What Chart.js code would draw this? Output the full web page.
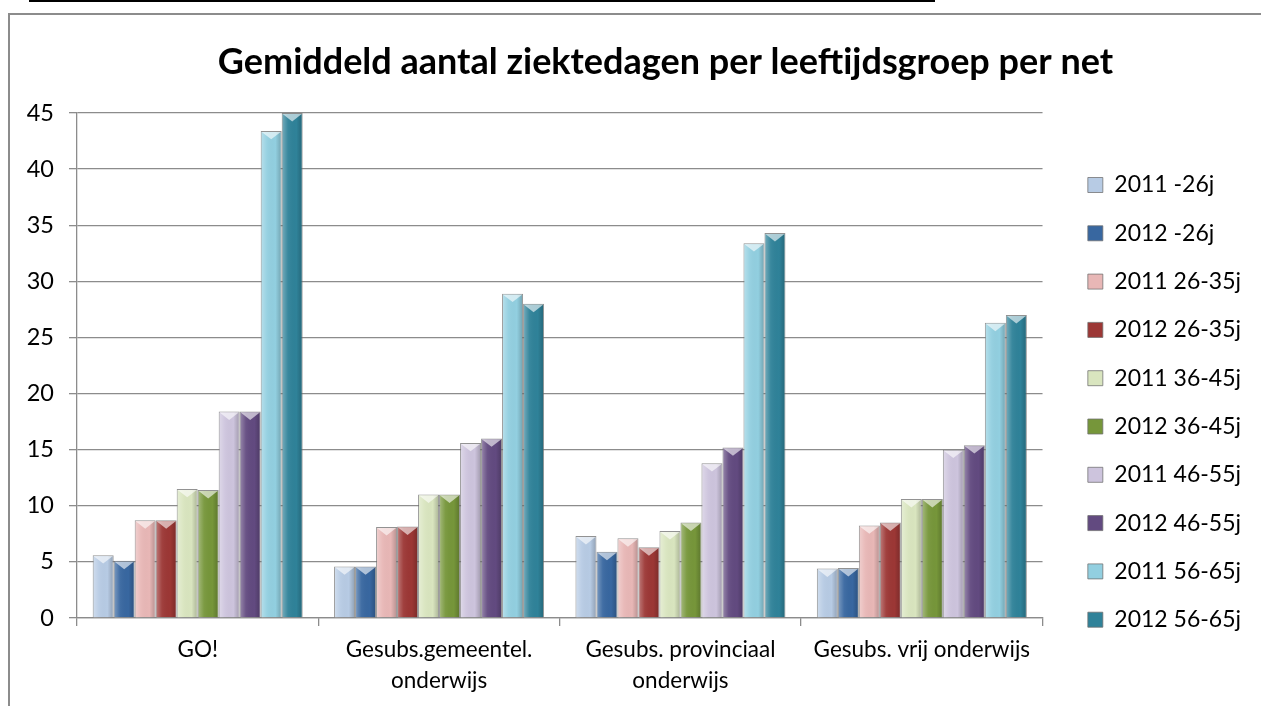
<!DOCTYPE html>
<html>
<head>
<meta charset="utf-8">
<script src="https://cdn.jsdelivr.net/npm/chart.js@4.4.0/dist/chart.umd.min.js"></script>
<style>
  body { margin: 0; background: #fff; overflow: hidden; }
  #topline { position: absolute; left: 29px; top: 0; width: 906px; height: 2px; background: #000; }
  #frame { position: absolute; left: 8px; top: 13px; width: 1300px; height: 760px;
           border-left: 2px solid #8c8c8c; border-top: 2px solid #8c8c8c; }
  #wrap { position: absolute; left: 0; top: 0; width: 1261px; height: 706px; }
</style>
</head>
<body>
<div id="topline"></div>
<div id="frame"></div>
<div id="wrap"><canvas id="chart"></canvas></div>
<script>
// categories (x axis)
const nets = ["GO!", ["Gesubs.gemeentel.", "onderwijs"], ["Gesubs. provinciaal", "onderwijs"], "Gesubs. vrij onderwijs"];

// series names
const seriesNames = ["2011 -26j", "2012 -26j", "2011 26-35j", "2012 26-35j", "2011 36-45j",
                     "2012 36-45j", "2011 46-55j", "2012 46-55j", "2011 56-65j", "2012 56-65j"];

// values per series, one per net
const v2011_26   = [5.6, 4.6, 7.3, 4.4];
const v2012_26   = [5.1, 4.6, 5.9, 4.45];
const v2011_2635 = [8.7, 8.1, 7.1, 8.25];
const v2012_2635 = [8.7, 8.15, 6.3, 8.5];
const v2011_3645 = [11.5, 11.0, 7.75, 10.6];
const v2012_3645 = [11.4, 11.0, 8.5, 10.6];
const v2011_4655 = [18.4, 15.6, 13.8, 15.0];
const v2012_4655 = [18.4, 16.0, 15.2, 15.4];
const v2011_5665 = [43.4, 28.9, 33.4, 26.3];
const v2012_5665 = [45.0, 28.0, 34.3, 27.0];

const seriesValues = [v2011_26, v2012_26, v2011_2635, v2012_2635, v2011_3645,
                      v2012_3645, v2011_4655, v2012_4655, v2011_5665, v2012_5665];

const colors = ["#b7cbe4", "#3867a0", "#e8b7b6", "#9c3735", "#d9e5bf",
                "#76963a", "#cdc4dd", "#624a80", "#92cfe0", "#2f8299"];

const yTicks = [0, 5, 10, 15, 20, 25, 30, 35, 40, 45];

const gridGray = "#8c8c8c";
const txt = "#000";

// light bevel on top of each bar, a bit like the office 3D look
const bevel = {
  id: "bevel",
  afterDatasetsDraw(chart) {
    const ctx = chart.ctx;
    chart.data.datasets.forEach((ds, i) => {
      chart.getDatasetMeta(i).data.forEach(bar => {
        const w = bar.width, l = bar.x - w / 2, r = bar.x + w / 2;
        const top = bar.y, h = bar.base - bar.y;
        ctx.save();
        const g = ctx.createLinearGradient(l, 0, r, 0);
        g.addColorStop(0, "rgba(255,255,255,0.35)");
        g.addColorStop(0.3, "rgba(255,255,255,0.05)");
        g.addColorStop(0.7, "rgba(0,0,0,0)");
        g.addColorStop(1, "rgba(0,0,0,0.22)");
        ctx.fillStyle = g;
        ctx.fillRect(l + 1, top + 1, w - 2, h - 1);
        ctx.beginPath();
        ctx.moveTo(l + 1, top + 1);
        ctx.lineTo(r - 1, top + 1);
        ctx.lineTo(bar.x, top + Math.min(w * 0.4, h));
        ctx.closePath();
        ctx.fillStyle = "rgba(255,255,255,0.6)";
        ctx.fill();
        ctx.restore();
      });
    });
  }
};

new Chart(document.getElementById("chart"), {
  type: "bar",
  data: {
    labels: nets,
    datasets: seriesNames.map((name, i) => ({
      label: name,
      data: seriesValues[i],
      backgroundColor: colors[i],
      borderColor: "rgba(110,110,110,0.75)",
      borderWidth: 1,
      categoryPercentage: 0.87,
      barPercentage: 1.0
    }))
  },
  options: {
    responsive: true,
    maintainAspectRatio: false,
    animation: false,
    layout: { padding: { left: 8, right: 10, top: 0, bottom: 0 } },
    plugins: {
      title: {
        display: true,
        // en spaces in front push the centred title a bit to the right, like the original
        text: "\u2002\u2002\u2002\u2002Gemiddeld aantal ziektedagen per leeftijdsgroep per net",
        color: txt,
        font: { family: "Lato", size: 36, weight: "bold", lineHeight: 1.2 },
        padding: { top: 40.4, bottom: 29.4 }
      },
      legend: {
        position: "right",
        align: "center",
        title: { display: true, text: " ", font: { size: 10, lineHeight: 1.2 }, padding: 43.35 },
        labels: {
          color: txt,
          font: { family: "Lato", size: 23 },
          boxWidth: 15,
          boxHeight: 15,
          padding: 25.3
        }
      },
      tooltip: { enabled: false }
    },
    scales: {
      x: {
        offset: true,
        grid: { display: true, drawOnChartArea: false, offset: true, color: gridGray, lineWidth: 1.3, tickLength: 8 },
        border: { display: true, color: gridGray, width: 1.3 },
        ticks: { color: txt, font: { family: "Lato", size: 22.5, lineHeight: 1.35 }, maxRotation: 0, autoSkip: false, padding: 9 },
        afterFit: s => { s.height = 88; }
      },
      y: {
        min: 0,
        max: 45,
        afterBuildTicks: s => { s.ticks = yTicks.map(v => ({ value: v })); },
        grid: { color: gridGray, lineWidth: 1.3, tickLength: 8 },
        border: { display: true, color: gridGray, width: 1.3 },
        ticks: { color: txt, font: { family: "Lato", size: 23.5 }, padding: 15 },
        afterFit: s => { s.width = 69; }
      },
      yR: {
        position: "right",
        display: true,
        grid: { display: false },
        border: { display: false },
        ticks: { display: false },
        afterFit: s => { s.width = 20; }
      }
    }
  },
  plugins: [bevel]
});
</script>
</body>
</html>
